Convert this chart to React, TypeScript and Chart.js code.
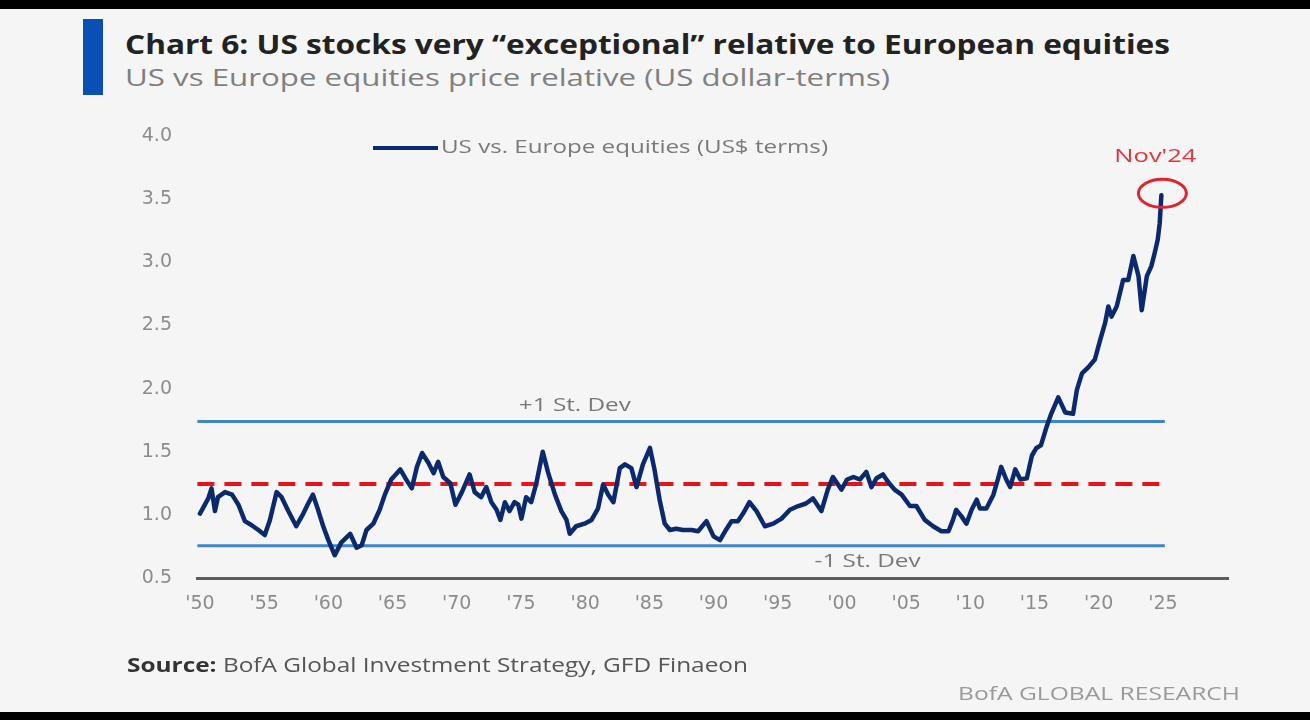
import React, { useEffect, useLayoutEffect, useRef } from "react";
import { Chart, registerables } from "chart.js";

Chart.register(...registerables);

// ---- Data ----
const seriesLabel = "US vs. Europe equities (US$ terms)";

const years = [
  1950.0, 1950.65, 1950.9, 1951.17, 1951.4, 1951.95, 1952.5, 1953.0, 1953.5, 1954.0,
  1954.55, 1955.05, 1955.45, 1955.97, 1956.36, 1956.88, 1957.5, 1958.05, 1958.43, 1958.8,
  1959.2, 1959.6, 1960.0, 1960.5, 1961.0, 1961.7, 1962.2, 1962.6, 1962.97, 1963.5,
  1964.0, 1964.4, 1964.9, 1965.6, 1966.0, 1966.5, 1966.9, 1967.3, 1967.8, 1968.2,
  1968.55, 1968.95, 1969.5, 1969.9, 1970.4, 1971.0, 1971.4, 1971.9, 1972.3, 1972.7,
  1973.1, 1973.4, 1973.75, 1974.1, 1974.5, 1974.8, 1975.04, 1975.4, 1975.8, 1976.2,
  1976.7, 1977.1, 1977.65, 1978.15, 1978.55, 1978.8, 1979.3, 1979.95, 1980.5, 1981.0,
  1981.4, 1981.8, 1982.2, 1982.7, 1983.1, 1983.6, 1984.0, 1984.5, 1985.05, 1985.4,
  1985.8, 1986.2, 1986.6, 1987.1, 1987.6, 1988.3, 1988.8, 1989.45, 1990.0, 1990.5,
  1990.9, 1991.4, 1991.9, 1992.3, 1992.8, 1993.35, 1994.0, 1994.65, 1995.3, 1995.95,
  1996.6, 1997.2, 1997.75, 1998.4, 1998.9, 1999.3, 1999.96, 2000.4, 2000.9, 2001.4,
  2001.9, 2002.3, 2002.7, 2003.2, 2003.6, 2004.1, 2004.65, 2005.3, 2005.8, 2006.45,
  2007.1, 2007.75, 2008.3, 2008.65, 2008.9, 2009.3, 2009.7, 2010.1, 2010.5, 2010.75,
  2011.25, 2011.8, 2012.2, 2012.4, 2012.8, 2013.1, 2013.5, 2013.9, 2014.4, 2014.8,
  2015.15, 2015.5, 2015.95, 2016.3, 2016.85, 2017.4, 2018.0, 2018.3, 2018.7, 2019.2,
  2019.7, 2020.1, 2020.5, 2020.75, 2021.0, 2021.4, 2021.9, 2022.3, 2022.7, 2023.1,
  2023.35, 2023.75, 2024.1, 2024.35, 2024.6, 2024.75, 2024.88,
];

const values = [
  1.01, 1.13, 1.21, 1.03, 1.14, 1.18, 1.16, 1.08, 0.95, 0.92,
  0.88, 0.84, 0.96, 1.18, 1.14, 1.03, 0.91, 1.01, 1.09, 1.16,
  1.04, 0.91, 0.8, 0.68, 0.78, 0.85, 0.74, 0.76, 0.88, 0.93,
  1.04, 1.16, 1.28, 1.36, 1.29, 1.21, 1.38, 1.49, 1.41, 1.33,
  1.42, 1.3, 1.25, 1.08, 1.18, 1.32, 1.18, 1.14, 1.22, 1.1,
  1.04, 0.96, 1.1, 1.03, 1.1, 1.08, 0.97, 1.14, 1.1, 1.25,
  1.5, 1.34, 1.16, 1.03, 0.96, 0.85, 0.91, 0.93, 0.96, 1.05,
  1.24, 1.16, 1.1, 1.37, 1.4, 1.37, 1.22, 1.4, 1.53, 1.36,
  1.12, 0.93, 0.88, 0.89, 0.88, 0.88, 0.87, 0.95, 0.83, 0.8,
  0.87, 0.95, 0.95, 1.01, 1.1, 1.03, 0.91, 0.93, 0.97, 1.04,
  1.07, 1.09, 1.13, 1.03, 1.2, 1.3, 1.2, 1.28, 1.3, 1.28,
  1.34, 1.22, 1.29, 1.32, 1.26, 1.2, 1.16, 1.07, 1.07, 0.96,
  0.91, 0.87, 0.87, 0.96, 1.04, 0.99, 0.93, 1.04, 1.12, 1.05,
  1.05, 1.16, 1.3, 1.38, 1.28, 1.22, 1.36, 1.28, 1.29, 1.47,
  1.53, 1.55, 1.7, 1.8, 1.93, 1.81, 1.8, 1.99, 2.12, 2.17,
  2.23, 2.38, 2.52, 2.65, 2.57, 2.65, 2.86, 2.86, 3.05, 2.89,
  2.62, 2.89, 2.97, 3.07, 3.18, 3.31, 3.53,
];

const plusOneSD = 1.74;
const meanLevel = 1.245;
const minusOneSD = 0.755;
const bandYears = [1949.8, 2025.15];

const xTickYears = [1950, 1955, 1960, 1965, 1970, 1975, 1980, 1985, 1990, 1995, 2000, 2005, 2010, 2015, 2020, 2025];
const xTickLabels = ["'50", "'55", "'60", "'65", "'70", "'75", "'80", "'85", "'90", "'95", "'00", "'05", "'10", "'15", "'20", "'25"];
const yTickValues = [0.5, 1.0, 1.5, 2.0, 2.5, 3.0, 3.5, 4.0];
const yTickLabels = ["0.5", "1.0", "1.5", "2.0", "2.5", "3.0", "3.5", "4.0"];

const plusLabel = "+1 St. Dev";
const minusLabel = "-1 St. Dev";
const peakLabel = "Nov'24";

const titleText = "Chart 6: US stocks very \u201Cexceptional\u201D relative to European equities";
const subtitleText = "US vs Europe equities price relative (US dollar-terms)";
const sourceLabel = "Source:";
const sourceText = " BofA Global Investment Strategy, GFD Finaeon";
const brandText = "BofA GLOBAL RESEARCH";

const NAVY = "#0b2a6e";
const BLUE = "#3d86c8";
const RED = "#e3141c";
const FONT = "'Open Sans', 'DejaVu Sans', sans-serif";
const TICK_FONT = "'DejaVu Sans', sans-serif";

function fitText(ctx: any, text: string, x: number, y: number, width: number, align: "left" | "center") {
  const w = ctx.measureText(text).width;
  const sx = width / w;
  ctx.save();
  ctx.translate(align === "center" ? x - width / 2 : x, y);
  ctx.scale(sx, 1);
  ctx.textAlign = "left";
  ctx.fillText(text, 0, 0);
  ctx.restore();
}

const annotationPlugin = {
  id: "annotations",
  afterDatasetsDraw(chart: any) {
    const { ctx, scales } = chart;
    const xs = scales.x;
    const ys = scales.y;
    ctx.save();
    ctx.textBaseline = "middle";
    // legend
    ctx.strokeStyle = NAVY;
    ctx.lineWidth = 4;
    ctx.beginPath();
    ctx.moveTo(373, 148);
    ctx.lineTo(438, 148);
    ctx.stroke();
    ctx.fillStyle = "#7a7a7a";
    ctx.font = `18px ${FONT}`;
    fitText(ctx, chart.data.datasets[0].label, 441, 148, 387, "left");

    // st dev labels
    ctx.fillStyle = "#777";
    ctx.font = `18px ${FONT}`;
    fitText(ctx, plusLabel, xs.getPixelForValue(1979.2), ys.getPixelForValue(plusOneSD) - 16, 112, "center");
    fitText(ctx, minusLabel, xs.getPixelForValue(2002.0), ys.getPixelForValue(minusOneSD) + 16, 106, "center");

    // peak marker
    const lastX = years[years.length - 1];
    const lastY = values[values.length - 1];
    const px = xs.getPixelForValue(lastX);
    const py = ys.getPixelForValue(lastY) - 2;
    ctx.strokeStyle = "#e0242c";
    ctx.lineWidth = 3;
    ctx.beginPath();
    ctx.ellipse(px + 1, py, 24, 14, 0, 0, Math.PI * 2);
    ctx.stroke();
    ctx.fillStyle = "#e0353d";
    ctx.font = `18px ${FONT}`;
    fitText(ctx, peakLabel, px - 6, py - 36, 82, "center");
    ctx.restore();
  },
};

function FitText(props: { left: number; top: number; width: number; style: any; children: any }) {
  const ref = useRef<HTMLDivElement | null>(null);
  useLayoutEffect(() => {
    const el = ref.current;
    if (!el) return;
    el.style.transform = "none";
    const w = el.getBoundingClientRect().width;
    if (w > 0) el.style.transform = `scaleX(${props.width / w})`;
  }, []);
  return (
    <div
      ref={ref}
      style={{
        position: "absolute",
        left: props.left,
        top: props.top,
        whiteSpace: "nowrap",
        transformOrigin: "0 0",
        ...props.style,
      }}
    >
      {props.children}
    </div>
  );
}

export default function App() {
  const ref = useRef<HTMLCanvasElement | null>(null);

  useEffect(() => {
    if (!ref.current) return;
    const bandData = (v: number) => bandYears.map((x) => ({ x, y: v }));
    const chart = new Chart(ref.current, {
      type: "line",
      data: {
        datasets: [
          {
            label: seriesLabel,
            data: years.map((x, i) => ({ x, y: values[i] })),
            borderColor: NAVY,
            backgroundColor: NAVY,
            borderWidth: 4.5,
            pointRadius: 0,
            tension: 0,
            borderJoinStyle: "round",
            borderCapStyle: "round",
          },
          {
            label: "Mean",
            data: bandData(meanLevel),
            borderColor: RED,
            borderWidth: 4,
            borderDash: [17, 10],
            pointRadius: 0,
          },
          {
            label: plusLabel,
            data: bandData(plusOneSD),
            borderColor: BLUE,
            borderWidth: 3,
            pointRadius: 0,
          },
          {
            label: minusLabel,
            data: bandData(minusOneSD),
            borderColor: BLUE,
            borderWidth: 3,
            pointRadius: 0,
          },
        ],
      },
      options: {
        responsive: false,
        animation: false,
        layout: { padding: { left: 0, top: 136, right: 82, bottom: 82 } },
        plugins: { legend: { display: false }, tooltip: { enabled: false } },
        scales: {
          x: {
            type: "linear",
            min: 1949.77,
            max: 2030.07,
            grid: { display: false, drawTicks: false },
            border: { display: true, color: "#5c5c5c", width: 3 },
            afterBuildTicks: (scale: any) => {
              scale.ticks = xTickYears.map((v) => ({ value: v }));
            },
            afterFit: (scale: any) => {
              scale.height = 60;
            },
            ticks: {
              autoSkip: false,
              maxRotation: 0,
              padding: 15,
              color: "#8c8c8c",
              font: { family: TICK_FONT, size: 19 },
              callback: (_v: any, i: number) => xTickLabels[i],
            },
          },
          y: {
            type: "linear",
            min: 0.5,
            max: 4.0,
            grid: { display: false, drawTicks: false },
            border: { display: false },
            afterBuildTicks: (scale: any) => {
              scale.ticks = yTickValues.map((v) => ({ value: v }));
            },
            afterFit: (scale: any) => {
              scale.width = 197;
            },
            ticks: {
              padding: 25,
              color: "#8c8c8c",
              font: { family: TICK_FONT, size: 19 },
              callback: (_v: any, i: number) => yTickLabels[i],
            },
          },
        },
      },
      plugins: [annotationPlugin],
    });
    return () => chart.destroy();
  }, []);

  return (
    <div
      style={{
        position: "fixed",
        left: 0,
        top: 0,
        width: 1310,
        height: 720,
        background: "#f5f5f5",
        overflow: "hidden",
        fontFamily: FONT,
      }}
    >
      <div style={{ position: "absolute", left: 0, top: 0, width: 1310, height: 9, background: "#000" }} />
      <div style={{ position: "absolute", left: 0, top: 712, width: 1310, height: 8, background: "#000" }} />
      <div style={{ position: "absolute", left: 83, top: 19, width: 20, height: 76, background: "#0a50b4" }} />
      <FitText
        left={125}
        top={28}
        width={1045}
        style={{ fontSize: 26, fontWeight: 700, color: "#222", lineHeight: "32px" }}
      >
        {titleText}
      </FitText>
      <FitText left={125} top={62} width={765} style={{ fontSize: 24, color: "#7f7f7f", lineHeight: "30px" }}>
        {subtitleText}
      </FitText>
      <canvas
        ref={ref}
        width={1310}
        height={720}
        style={{ position: "absolute", left: 0, top: 0, width: 1310, height: 720 }}
      />
      <FitText left={127} top={652} width={621} style={{ fontSize: 20, color: "#555", lineHeight: "26px" }}>
        <span style={{ fontWeight: 700, color: "#333" }}>{sourceLabel}</span>
        {sourceText}
      </FitText>
      <FitText left={958} top={681} width={282} style={{ fontSize: 19, color: "#9a9a9a", lineHeight: "24px" }}>
        {brandText}
      </FitText>
    </div>
  );
}
